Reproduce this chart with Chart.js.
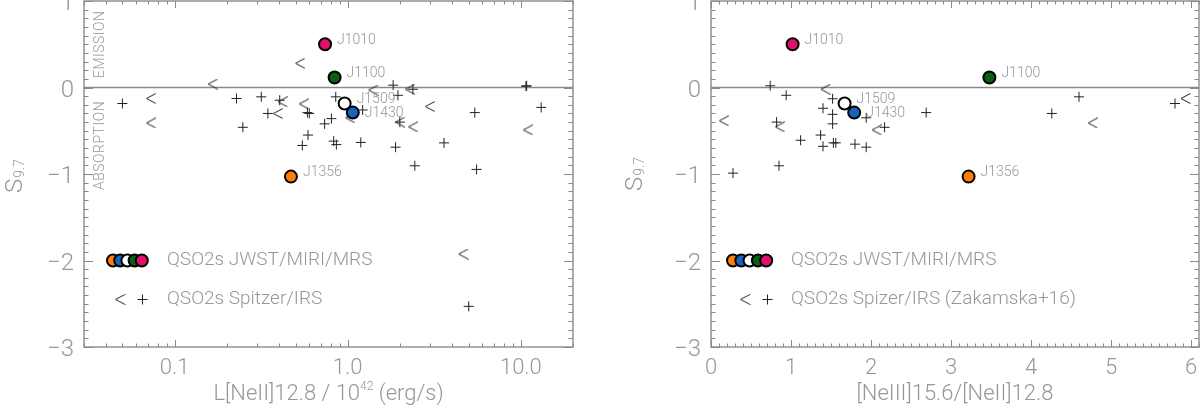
<!DOCTYPE html>
<html><head><meta charset="utf-8">
<script src="https://cdn.jsdelivr.net/npm/chart.js@4/dist/chart.umd.min.js"></script>
<style>
html,body{margin:0;padding:0;background:#fff;}
#wrap{position:relative;width:1200px;height:411px;overflow:hidden;background:#fff;}
.panel{position:absolute;top:0;width:600px;height:411px;}
</style></head><body>
<div id="wrap">
<div class="panel" style="left:0"><canvas id="c1" width="600" height="411"></canvas></div>
<div class="panel" style="left:600px"><canvas id="c2" width="600" height="411"></canvas></div>
</div>
<script>
// ---------------- DATA ----------------
const jwstNames  = ['J1010', 'J1100', 'J1356', 'J1509', 'J1430'];
const jwstColors = ['#e0106e', '#0b5e16', '#ff7f0a', '#ffffff', '#1565c0'];
const jwstLNeII  = [0.74, 0.84, 0.47, 0.96, 1.07];
const jwstRatio  = [1.02, 3.48, 3.22, 1.67, 1.79];
const jwstS97    = [0.50, 0.115, -1.03, -0.185, -0.29];

// Left panel: Spitzer/IRS, '+' markers
const leftPlusL = [0.050, 0.228, 0.317, 0.405, 0.346, 0.248, 0.585, 0.600, 0.736, 0.590,
                   0.547, 0.853, 0.805, 1.22, 1.83, 1.95, 2.38, 2.00, 0.83, 0.86,
                   1.19, 1.89, 3.60, 2.44, 5.55, 5.42, 10.7, 10.8, 13.1, 5.00];
const leftPlusS = [-0.185, -0.127, -0.108, -0.147, -0.30, -0.46, -0.29, -0.30, -0.42, -0.55,
                   -0.67, -0.108, -0.36, -0.26, 0.027, -0.09, -0.02, -0.40, -0.62, -0.66,
                   -0.635, -0.69, -0.64, -0.905, -0.947, -0.29, 0.015, 0.02, -0.23, -2.53];
// Left panel: Spitzer/IRS, '<' markers
const leftLtL = [0.53, 0.166, 0.073, 0.073, 0.42, 0.395, 0.557, 1.40, 2.28, 2.00, 2.38, 2.98, 10.97, 4.64, 1.03];
const leftLtS = [0.28, 0.04, -0.127, -0.41, -0.166, -0.30, -0.19, -0.03, -0.02, -0.40, -0.455, -0.22, -0.49, -1.925, -0.35];

// Right panel: Spitzer/IRS (Zakamska+16)
const rightPlusR = [0.74, 0.94, 0.82, 0.275, 0.85, 1.12, 1.37, 1.40, 1.53, 1.56, 1.40,
                    1.52, 1.52, 1.52, 1.94, 1.80, 1.94, 2.17, 2.69, 4.26, 4.60, 5.80];
const rightPlusS = [0.02, -0.09, -0.40, -0.99, -0.905, -0.61, -0.55, -0.68, -0.64, -0.64, -0.24,
                    -0.31, -0.42, -0.13, -0.35, -0.655, -0.69, -0.46, -0.29, -0.30, -0.108, -0.185];
const rightLtR = [0.16, 0.86, 1.43, 2.07, 4.77, 5.93];
const rightLtS = [-0.385, -0.455, -0.02, -0.49, -0.41, -0.127];

// Tick labels
const yTicks = [-3, -2, -1, 0, 1];
const yTickLabels = ['\u22123', '\u22122', '\u22121', '0', '1'];
const xTicksL = [0.1, 1, 10];
const xTickLabelsL = ['0.1', '1.0', '10.0'];
const xTicksR = [0, 1, 2, 3, 4, 5, 6];
const xTickLabelsR = ['0', '1', '2', '3', '4', '5', '6'];

const legendJWST = 'QSO2s JWST/MIRI/MRS';
const legendSpitzerL = 'QSO2s Spitzer/IRS';
const legendSpitzerR = 'QSO2s Spizer/IRS (Zakamska+16)';
const legendOrder = ['J1356', 'J1430', 'J1509', 'J1100', 'J1010'];

// ---------------- STYLE ----------------
const FONT = 'Roboto, "Liberation Sans", sans-serif';
const FW = '300 ';
const TXT = '#979797';
const AX = '#8a8a8a';
const MK = '#222222';

function makeLt() {
  const c = document.createElement('canvas');
  c.width = 11; c.height = 11;
  const g = c.getContext('2d');
  g.strokeStyle = MK; g.lineWidth = 1;
  g.beginPath(); g.moveTo(10.5, 0.5); g.lineTo(1, 5.5); g.lineTo(10.5, 10.5); g.stroke();
  return c;
}
const ltImg = makeLt();

function pts(xs, ys) { return xs.map((x, i) => ({ x: x, y: ys[i] })); }

function decorPlugin(cfg) {
  return {
    id: 'decor',
    beforeDatasetsDraw(chart) {
      const { ctx, chartArea: a, scales: { y } } = chart;
      const p = y.getPixelForValue(0);
      ctx.save();
      ctx.strokeStyle = AX; ctx.lineWidth = 1.3;
      ctx.beginPath(); ctx.moveTo(a.left, p); ctx.lineTo(a.right, p); ctx.stroke();
      ctx.restore();
    },
    afterDatasetsDraw(chart) {
      const { ctx } = chart;
      const meta = chart.getDatasetMeta(0);
      ctx.save();
      ctx.font = FW + '14px ' + FONT; ctx.fillStyle = TXT;
      ctx.textAlign = 'left'; ctx.textBaseline = 'middle';
      meta.data.forEach((el, i) => {
        const n = jwstNames[i];
        const dy = n === 'J1430' ? 1 : -4;
        ctx.fillText(n, el.x + 12, el.y + dy);
      });
      ctx.restore();
    },
    afterDraw(chart) {
      const { ctx, chartArea: a, scales: { x, y } } = chart;
      ctx.save();
      // frame
      ctx.strokeStyle = AX; ctx.lineWidth = 1.4;
      ctx.strokeRect(a.left, a.top, a.right - a.left, a.bottom - a.top);
      ctx.lineWidth = 1;
      const line = (x1, y1, x2, y2) => { ctx.beginPath(); ctx.moveTo(x1, y1); ctx.lineTo(x2, y2); ctx.stroke(); };
      // y ticks (minor every 0.1)
      for (let k = -30; k <= 10; k++) {
        const p = Math.round(y.getPixelForValue(k / 10)) + 0.5;
        const L = (k % 10 === 0) ? 9 : 4.5;
        line(a.left, p, a.left + L, p);
        line(a.right, p, a.right - L, p);
      }
      // x ticks
      cfg.xTickVals(x).forEach(t => {
        const p = Math.round(x.getPixelForValue(t.v)) + 0.5;
        const L = t.major ? 7 : 3.5;
        line(p, a.bottom, p, a.bottom - L);
        line(p, a.top, p, a.top + L);
      });
      // y title S_9.7 (rotated)
      ctx.fillStyle = TXT;
      ctx.save();
      ctx.translate(cfg.yTitleX, cfg.yTitleY);
      ctx.rotate(-Math.PI / 2);
      ctx.font = FW + '24px ' + FONT;
      const wS = ctx.measureText('S').width;
      ctx.font = FW + '14px ' + FONT;
      const w9 = ctx.measureText('9.7').width;
      const st = -(wS + w9 + 1) / 2;
      ctx.textBaseline = 'alphabetic'; ctx.textAlign = 'left';
      ctx.font = FW + '24px ' + FONT; ctx.fillText('S', st, 0);
      ctx.font = FW + '14px ' + FONT; ctx.fillText('9.7', st + wS + 1, 2);
      ctx.restore();
      // x title
      const cx = (a.left + a.right) / 2, ty = 394;
      ctx.textBaseline = 'middle'; ctx.textAlign = 'left';
      const parts = cfg.xTitle;
      let tw = 0;
      parts.forEach(pt => { ctx.font = FW + pt.size + 'px ' + FONT; tw += ctx.measureText(pt.t).width; });
      let xx = cx - tw / 2;
      parts.forEach(pt => {
        ctx.font = FW + pt.size + 'px ' + FONT;
        ctx.fillText(pt.t, xx, ty + (pt.dy || 0));
        xx += ctx.measureText(pt.t).width;
      });
      // EMISSION / ABSORPTION
      if (cfg.sideLabels) {
        ctx.font = FW + '14px ' + FONT;
        ctx.textAlign = 'center'; ctx.textBaseline = 'middle';
        [['EMISSION', 0.5], ['ABSORPTION', -0.67]].forEach(([t, v]) => {
          ctx.save();
          ctx.translate(a.left + 16, y.getPixelForValue(v));
          ctx.rotate(-Math.PI / 2);
          ctx.letterSpacing = '0.5px';
          ctx.fillText(t, 0, 0);
          ctx.restore();
        });
      }
      // legend
      const h = a.bottom - a.top;
      const ly1 = a.top + 0.75 * h, ly2 = a.top + 0.8625 * h;
      legendOrder.forEach((n, i) => {
        const idx = jwstNames.indexOf(n);
        ctx.beginPath();
        ctx.arc(a.left + cfg.legC0 + i * cfg.legStep, ly1, 6, 0, Math.PI * 2);
        ctx.fillStyle = jwstColors[idx]; ctx.fill();
        ctx.strokeStyle = '#000'; ctx.lineWidth = 2; ctx.stroke();
      });
      ctx.drawImage(ltImg, a.left + cfg.legLt - 5.5, ly2 - 5.5);
      ctx.strokeStyle = MK; ctx.lineWidth = 1;
      const px = Math.round(a.left + cfg.legPlus) + 0.5, py = Math.round(ly2) + 0.5;
      line(px - 5, py, px + 5, py); line(px, py - 5, px, py + 5);
      ctx.fillStyle = TXT; ctx.font = FW + '19px ' + FONT;
      ctx.textAlign = 'left'; ctx.textBaseline = 'middle';
      ctx.fillText(legendJWST, a.left + cfg.legText, ly1);
      ctx.fillText(cfg.legend2, a.left + cfg.legText, ly2);
      ctx.restore();
    }
  };
}

function makeChart(id, cfg) {
  const ctx = document.getElementById(id);
  return new Chart(ctx, {
    type: 'scatter',
    data: {
      datasets: [
        { label: 'JWST', data: pts(cfg.jx, jwstS97), pointStyle: 'circle', pointRadius: 6,
          pointBackgroundColor: jwstColors, pointBorderColor: '#000', pointBorderWidth: 2 },
        { label: 'lt', data: pts(cfg.ltx, cfg.lty), pointStyle: ltImg, pointRadius: 5 },
        { label: 'plus', data: pts(cfg.plx, cfg.ply), pointStyle: 'cross', pointRadius: 5,
          pointBorderColor: MK, pointBorderWidth: 1 }
      ]
    },
    options: {
      responsive: false, animation: false, events: [],
      layout: { autoPadding: false, padding: { left: 0, right: cfg.padRight, top: 1, bottom: 0 } },
      plugins: { legend: { display: false }, tooltip: { enabled: false } },
      scales: {
        x: {
          type: cfg.xType, min: cfg.xMin, max: cfg.xMax,
          grid: { display: false, drawTicks: false }, border: { display: false },
          afterBuildTicks: s => { s.ticks = cfg.xTicks.map(v => ({ value: v })); },
          ticks: { autoSkip: false, maxRotation: 0, padding: 8, color: TXT,
                   font: { family: FONT, size: 22, weight: 300 },
                   callback: (v, i) => cfg.xTickLabels[i] },
          afterFit: s => { s.height = 64; s.paddingLeft = 0; s.paddingRight = 0; }
        },
        y: {
          type: 'linear', min: -3, max: 1,
          grid: { display: false, drawTicks: false }, border: { display: false },
          afterBuildTicks: s => { s.ticks = yTicks.map(v => ({ value: v })); },
          ticks: { autoSkip: false, padding: 10, labelOffset: 3, color: TXT,
                   font: { family: FONT, size: 24, weight: 300 },
                   callback: (v, i) => yTickLabels[i] },
          afterFit: s => { s.width = cfg.yWidth; s.paddingTop = 0; s.paddingBottom = 0; }
        }
      }
    },
    plugins: [decorPlugin(cfg)]
  });
}

makeChart('c1', {
  jx: jwstLNeII, ltx: leftLtL, lty: leftLtS, plx: leftPlusL, ply: leftPlusS,
  xType: 'logarithmic', xMin: 0.03, xMax: 20, xTicks: xTicksL, xTickLabels: xTickLabelsL,
  padRight: 27, yWidth: 84,
  xTickVals: (x) => {
    const out = [];
    for (let d = -2; d <= 1; d++) for (let k = 1; k <= 9; k++) {
      const v = k * Math.pow(10, d);
      if (v >= 0.03 - 1e-9 && v <= 20 + 1e-9) out.push({ v: v, major: k === 1 });
    }
    return out;
  },
  yTitleX: 22, yTitleY: 176,
  xTitle: [{ t: 'L[NeII]12.8 / 10', size: 22 }, { t: '42', size: 12, dy: -7 }, { t: ' (erg/s)', size: 22 }],
  sideLabels: true,
  legC0: 29, legStep: 7.2, legLt: 36, legPlus: 58, legText: 83, legend2: legendSpitzerL
});

makeChart('c2', {
  jx: jwstRatio, ltx: rightLtR, lty: rightLtS, plx: rightPlusR, ply: rightPlusS,
  xType: 'linear', xMin: 0, xMax: 6.1, xTicks: xTicksR, xTickLabels: xTickLabelsR,
  padRight: 1, yWidth: 111,
  xTickVals: () => {
    const out = [];
    for (let k = 0; k <= 61; k++) out.push({ v: k / 10, major: k % 10 === 0 });
    return out;
  },
  yTitleX: 42, yTitleY: 174,
  xTitle: [{ t: '[NeIII]15.6/[NeII]12.8', size: 22 }],
  sideLabels: false,
  legC0: 22, legStep: 8.3, legLt: 34, legPlus: 56, legText: 80, legend2: legendSpitzerR
});
</script>
</body></html>
